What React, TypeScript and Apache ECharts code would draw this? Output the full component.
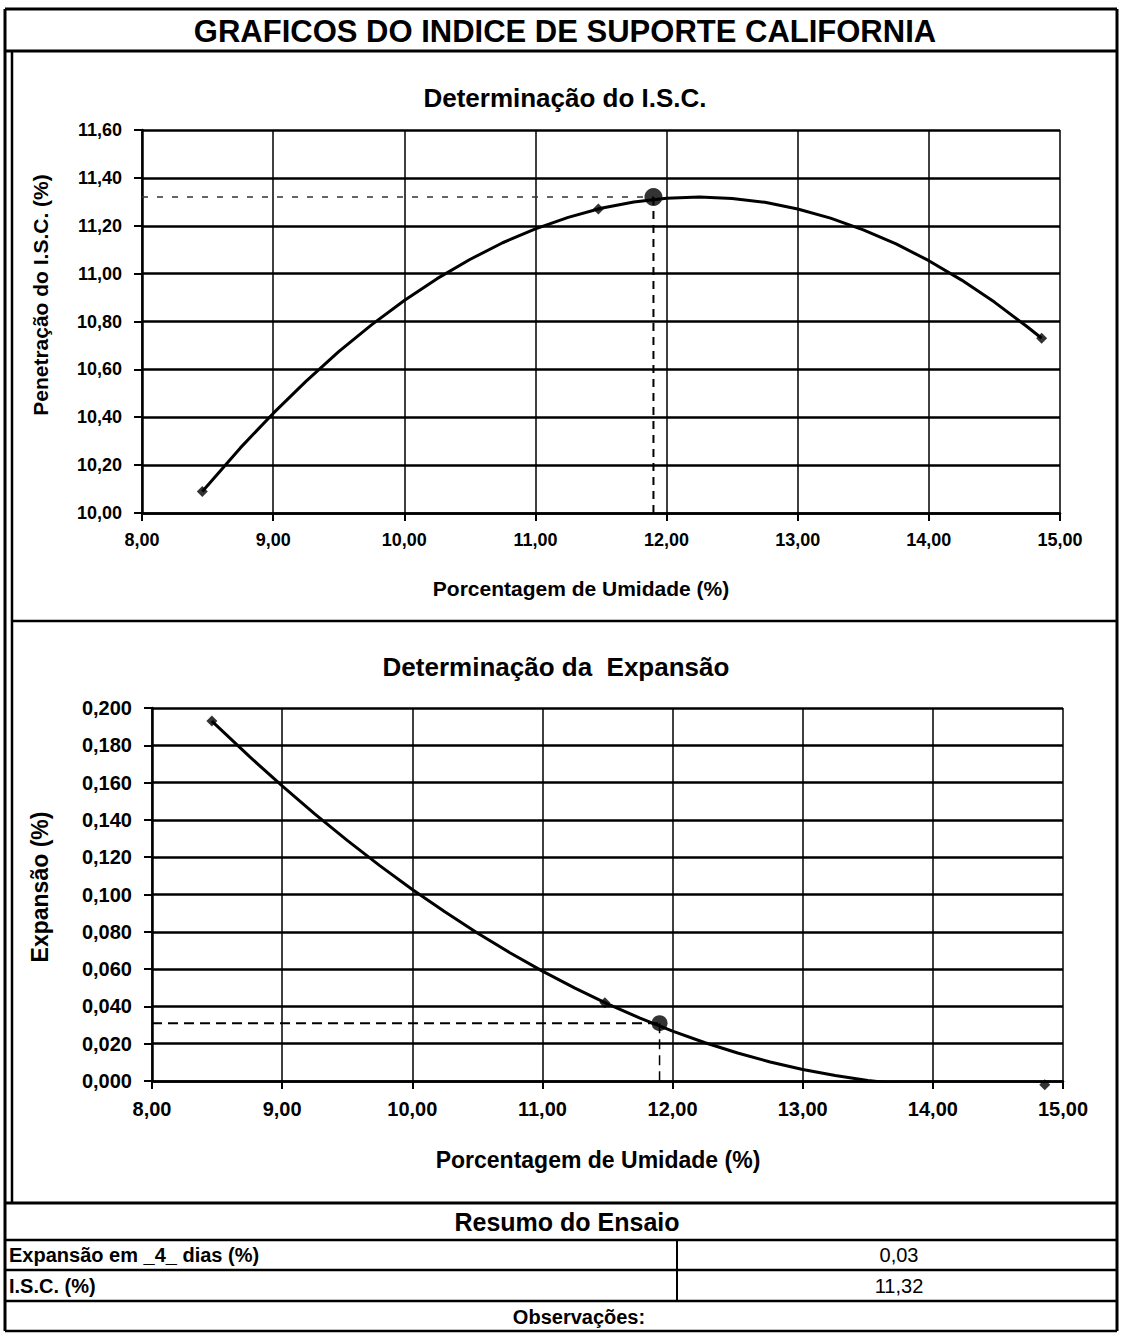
import React, { useEffect, useRef } from "react";
import * as echarts from "echarts";

// ---- Data ----
const moisture = [8.46, 11.48, 14.86];
const iscValues = [10.09, 11.27, 10.73];
const expansionValues = [0.193, 0.042, -0.002];

// trend curves
const iscCurveX = [8.46, 8.75, 9.0, 9.25, 9.5, 9.75, 10.0, 10.25, 10.5, 10.75, 11.0, 11.25, 11.5, 11.75, 12.0, 12.25, 12.5, 12.75, 13.0, 13.25, 13.5, 13.75, 14.0, 14.25, 14.5, 14.75, 14.86];
const iscCurveY = [10.09, 10.272, 10.416, 10.55, 10.674, 10.786, 10.888, 10.979, 11.059, 11.129, 11.187, 11.235, 11.273, 11.299, 11.315, 11.32, 11.314, 11.298, 11.27, 11.232, 11.183, 11.124, 11.054, 10.973, 10.881, 10.778, 10.73];
const expCurveX = [8.46, 8.75, 9.0, 9.25, 9.5, 9.75, 10.0, 10.25, 10.5, 10.75, 11.0, 11.25, 11.5, 11.75, 12.0, 12.25, 12.5, 12.75, 13.0, 13.25, 13.5, 13.75, 14.0, 14.25, 14.5, 14.75, 14.86];
const expCurveY = [0.193, 0.1739, 0.1582, 0.1432, 0.129, 0.1155, 0.1027, 0.0907, 0.0794, 0.0688, 0.0589, 0.0498, 0.0414, 0.0337, 0.0267, 0.0205, 0.015, 0.0102, 0.0062, 0.0029, 0.0003, -0.0016, -0.0027, -0.0031, -0.0028, -0.0017, -0.001];

const optimumMoisture = 11.9;
const iscResult = 11.32;
const expansionResult = 0.031;

const xTicks = { min: 8, max: 15, interval: 1 };
const iscTicks = { min: 10, max: 11.6, interval: 0.2 };
const expTicks = { min: 0, max: 0.2, interval: 0.02 };

const summaryLabels = ["Expansão em _4_ dias (%)", "I.S.C. (%)"];
const summaryValues = ["0,03", "11,32"];

const FONT = '"Liberation Sans", Arial, sans-serif';

const zip = (xs: number[], ys: number[]) => xs.map((x, i) => [x, ys[i]]);
const fmt = (d: number) => (v: number) => v.toFixed(d).replace(".", ",");

function App() {
  const ref = useRef<HTMLDivElement>(null);
  useEffect(() => {
    if (!ref.current) return;
    const chart = echarts.init(ref.current, undefined, { renderer: "svg" });

    const axisCommon = (fontSize: number) => ({
      axisLine: { show: true, onZero: false, lineStyle: { color: "#000", width: 2.5 } },
      axisTick: { show: true, inside: false, length: 8, lineStyle: { color: "#000", width: 2 } },
      axisLabel: { color: "#000", fontFamily: FONT, fontWeight: "bold", fontSize, margin: 20 },
    });

    const L = (x1: number, y1: number, x2: number, y2: number, w = 2.5) => ({
      type: "line",
      shape: { x1, y1, x2, y2 },
      style: { stroke: "#000", lineWidth: w },
      z: 100,
    });
    const T = (text: string, x: number, y: number, font: string, align = "center", rotation = 0) => ({
      type: "text",
      x,
      y,
      rotation,
      style: { text, font, fill: "#000", textAlign: align, textVerticalAlign: "middle" },
      z: 100,
    });

    const dashed = (xIdx: number, data: number[][], type: number[], width: number, color = "#000") => ({
      type: "line",
      xAxisIndex: xIdx,
      yAxisIndex: xIdx,
      data,
      symbol: "none",
      lineStyle: { color, width, type },
      z: 3,
    });

    const curve = (idx: number, data: number[][]) => ({
      type: "line",
      xAxisIndex: idx,
      yAxisIndex: idx,
      data,
      smooth: false,
      symbol: "none",
      lineStyle: { color: "#000", width: 3, join: "round" },
      z: 4,
    });

    chart.setOption({
      animation: false,
      backgroundColor: "#fff",
      grid: [
        { left: 142, width: 918, top: 130, height: 383 },
        { left: 152, width: 911, top: 708, height: 373 },
      ],
      xAxis: [0, 1].map((i) => ({
        type: "value",
        gridIndex: i,
        ...xTicks,
        ...axisCommon(i === 0 ? 18 : 20),
        axisLabel: { ...axisCommon(i === 0 ? 18 : 20).axisLabel, margin: 18, formatter: fmt(2) },
        splitLine: { show: true, lineStyle: { color: "#000", width: 1.5 } },
      })),
      yAxis: [
        {
          type: "value",
          gridIndex: 0,
          ...iscTicks,
          ...axisCommon(18),
          axisLabel: { ...axisCommon(18).axisLabel, formatter: fmt(2) },
          splitLine: { show: true, lineStyle: { color: "#000", width: 2.5 } },
        },
        {
          type: "value",
          gridIndex: 1,
          ...expTicks,
          ...axisCommon(20),
          axisLabel: { ...axisCommon(20).axisLabel, formatter: fmt(3) },
          splitLine: { show: true, lineStyle: { color: "#000", width: 2.5 } },
        },
      ],
      series: [
        curve(0, zip(iscCurveX, iscCurveY)),
        dashed(0, [[xTicks.min, iscResult], [optimumMoisture, iscResult]], [6, 9], 1.5, "#333"),
        dashed(0, [[optimumMoisture, iscResult], [optimumMoisture, iscTicks.min]], [8, 6], 2),
        {
          type: "scatter",
          xAxisIndex: 0,
          yAxisIndex: 0,
          data: zip(moisture, iscValues),
          symbol: "diamond",
          symbolSize: 11,
          itemStyle: { color: "#000" },
          clip: false,
          z: 5,
        },
        {
          type: "scatter",
          xAxisIndex: 0,
          yAxisIndex: 0,
          data: [[optimumMoisture, iscResult]],
          symbol: "circle",
          symbolSize: 18,
          itemStyle: { color: "#000" },
          z: 6,
        },
        curve(1, zip(expCurveX, expCurveY)),
        dashed(1, [[xTicks.min, expansionResult], [optimumMoisture, expansionResult]], [10, 6], 2),
        dashed(1, [[optimumMoisture, expansionResult], [optimumMoisture, expTicks.min]], [10, 6], 1.5),
        {
          type: "scatter",
          xAxisIndex: 1,
          yAxisIndex: 1,
          data: zip(moisture, expansionValues),
          symbol: "diamond",
          symbolSize: 11,
          itemStyle: { color: "#000" },
          clip: false,
          z: 5,
        },
        {
          type: "scatter",
          xAxisIndex: 1,
          yAxisIndex: 1,
          data: [[optimumMoisture, expansionResult]],
          symbol: "circle",
          symbolSize: 16,
          itemStyle: { color: "#000" },
          z: 6,
        },
      ],
      graphic: [
        // frames
        L(5, 9, 1117, 9, 3),
        L(5, 51, 1117, 51, 3),
        L(5, 9, 5, 1331, 3),
        L(12, 51, 12, 1203, 2.5),
        L(1117, 9, 1117, 1331, 3),
        L(12, 621, 1117, 621, 2.5),
        L(5, 1203, 1117, 1203, 3),
        L(5, 1240, 1117, 1240, 2.5),
        L(5, 1270, 1117, 1270, 2.5),
        L(5, 1301, 1117, 1301, 2.5),
        L(5, 1331, 1117, 1331, 2.5),
        L(677, 1240, 677, 1301, 2),
        // titles
        T("GRAFICOS DO INDICE DE SUPORTE CALIFORNIA", 565, 31, `bold 31px ${FONT}`),
        T("Determinação do I.S.C.", 565, 98, `bold 26px ${FONT}`),
        T("Penetração do I.S.C. (%)", 40, 295, `bold 21px ${FONT}`, "center", Math.PI / 2),
        T("Porcentagem de Umidade (%)", 581, 588, `bold 21px ${FONT}`),
        T("Determinação da  Expansão", 556, 667, `bold 26px ${FONT}`),
        T("Expansão (%)", 40, 887, `bold 23px ${FONT}`, "center", Math.PI / 2),
        T("Porcentagem de Umidade (%)", 598, 1160, `bold 23px ${FONT}`),
        // summary table
        T("Resumo do Ensaio", 567, 1222, `bold 25px ${FONT}`),
        T(summaryLabels[0], 9, 1255, `bold 20px ${FONT}`, "left"),
        T(summaryValues[0], 899, 1255, `20px ${FONT}`),
        T(summaryLabels[1], 9, 1286, `bold 20px ${FONT}`, "left"),
        T(summaryValues[1], 899, 1286, `20px ${FONT}`),
        T("Observações:", 579, 1317, `bold 20px ${FONT}`),
      ],
    });
    return () => chart.dispose();
  }, []);
  return (
    <div
      ref={ref}
      style={{ position: "absolute", left: 0, top: 0, width: 1122, height: 1333, background: "#fff" }}
    />
  );
}

export default App;
